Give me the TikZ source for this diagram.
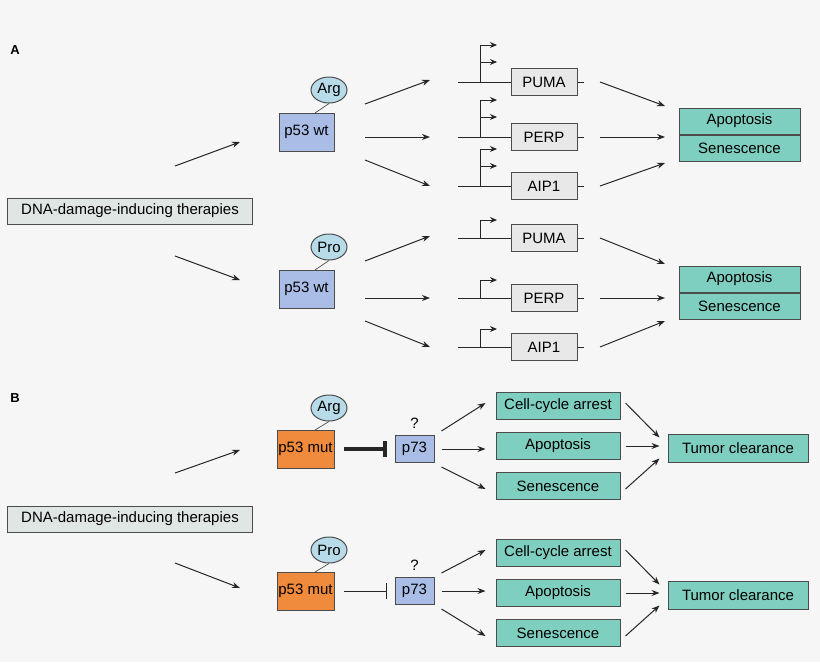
\documentclass[tikz,border=0pt]{standalone}
\usepackage{fontspec}
\setmainfont{Liberation Sans}
\usetikzlibrary{arrows.meta,positioning,shapes.geometric}
\definecolor{bgc}{RGB}{246,246,246}
\definecolor{dnac}{RGB}{224,230,227}
\definecolor{wtc}{RGB}{169,189,230}
\definecolor{resc}{RGB}{183,219,232}
\definecolor{tealc}{RGB}{127,207,192}
\definecolor{mutc}{RGB}{240,138,60}
\definecolor{genec}{RGB}{232,232,232}
\tikzset{every picture/.style={line width=1pt}}
\tikzset{
  box/.style={draw=black!70,font=\fontsize{15}{17}\selectfont,inner sep=0pt},
  dnabox/.style={box,fill=dnac,minimum width=245,minimum height=26},
  wtbox/.style={box,fill=wtc,minimum width=55,minimum height=38},
  mutbox/.style={box,fill=mutc,minimum width=57,minimum height=38},
  resbox/.style={box,ellipse,fill=resc,minimum width=36,minimum height=26},
  genebox/.style={box,fill=genec,minimum width=66,minimum height=27},
  outbox/.style={box,fill=tealc,minimum width=121,minimum height=26},
  cellbox/.style={box,fill=tealc,minimum width=124,minimum height=27},
  tumbox/.style={box,fill=tealc,minimum width=140,minimum height=28},
  p73box/.style={box,fill=wtc,minimum width=39,minimum height=27},
  arr/.style={draw=black!85,-{Stealth[length=8pt,width=6pt]}},
  prom/.style={draw=black!85,-{Stealth[length=7pt,width=6pt]}},
}
\begin{document}
\begin{tikzpicture}[x=1pt,y=-1pt]
\fill[bgc] (0,0) rectangle (820,662);
\useasboundingbox (0,0) rectangle (820,662);

% panel A
\node[font=\bfseries\fontsize{13}{15}\selectfont] (labA) at (15,50) {A};
\node[dnabox] (dnaA) at (130,211) {DNA-damage-inducing therapies};
\coordinate (dA1) at (175,166); \coordinate (dA1e) at (240,142);
\coordinate (dA2) at (175,256); \coordinate (dA2e) at (240,280);
\draw[arr] (dA1) -- (dA1e);
\draw[arr] (dA2) -- (dA2e);

% p53 wt, two variants
\foreach \nm/\res/\y/\pu/\pe/\ai/\ap in {arg/Arg/132/82/137/186/134, pro/Pro/289/238/298/347/292}{
  \node[wtbox] (wt\nm) at (306.5,\y) {p53 wt};
  \node[resbox] (r\nm) at (329,\y-42) {\res};
  \draw[black!70,line width=0.7pt] (315,\y-19) -- (r\nm.south);
  \coordinate (s1\nm) at (365,\y-28); \coordinate (e1\nm) at (430,\pu-2);
  \coordinate (s2\nm) at (365,\pe); \coordinate (e2\nm) at (430,\pe);
  \coordinate (s3\nm) at (365,\ai-26); \coordinate (e3\nm) at (430,\ai);
  \draw[arr] (s1\nm) -- (e1\nm);
  \draw[arr] (s2\nm) -- (e2\nm);
  \draw[arr] (s3\nm) -- (e3\nm);
  % genes
  \foreach \g/\gy in {PUMA/\pu, PERP/\pe, AIP1/\ai}{
    \node[genebox] (g\g\nm) at (544,\gy) {\g};
    \coordinate (gl\g\nm) at (458,\gy); \coordinate (gr\g\nm) at (584,\gy);
    \draw[black!85] (gl\g\nm) -- (g\g\nm.west) (g\g\nm.east) -- (gr\g\nm);
  }
  \node[outbox] (apo\nm) at (739.5,\ap-13) {Apoptosis};
  \node[outbox,below=0pt of apo\nm] (sen\nm) {Senescence};
  \coordinate (o1\nm) at (600,\pu); \coordinate (o2\nm) at (600,\pe); \coordinate (o3\nm) at (600,\ai);
  \draw[arr] (o1\nm) -- (665,\ap-28);
  \draw[arr] (o2\nm) -- (665,\pe);
  \draw[arr] (o3\nm) -- (665,\ap+29);
}
% promoters, two starts for Arg
\foreach \gy in {82,137,186}{
  \draw[black!85] (480,\gy) -- (480,\gy-37);
  \draw[prom] (480,\gy-37) -- (497,\gy-37);
  \draw[prom] (480,\gy-20) -- (497,\gy-20);
}
% promoters, one start for Pro
\foreach \gy in {238,298,347}{
  \draw[black!85] (480,\gy) -- (480,\gy-18);
  \draw[prom] (480,\gy-18) -- (497,\gy-18);
}

% panel B
\node[font=\bfseries\fontsize{13}{15}\selectfont] (labB) at (15,398) {B};
\node[dnabox] (dnaB) at (130,519) {DNA-damage-inducing therapies};
\coordinate (dB1) at (175,473); \coordinate (dB1e) at (240,450);
\coordinate (dB2) at (175,563); \coordinate (dB2e) at (240,588);
\draw[arr] (dB1) -- (dB1e);
\draw[arr] (dB2) -- (dB2e);

\foreach \nm/\res/\y/\cy/\ty/\lw in {marg/Arg/449/406/448/4pt, mpro/Pro/591/553/595/1pt}{
  \node[mutbox] (mut\nm) at (305.5,\y) {p53 mut};
  \node[resbox] (r\nm) at (329,\y-41) {\res};
  \draw[black!70,line width=0.7pt] (315,\y-19) -- (r\nm.south);
  \node[p73box] (p\nm) at (414.5,\y) {p73};
  \node[font=\fontsize{15}{17}\selectfont,above=3pt of p\nm] (q\nm) {?};
  \draw[black!85,line width=\lw,-{Bar[width=16pt]}] (mut\nm.east) ++(9,0) -- ([xshift=-8pt]p\nm.west);
  \node[cellbox] (cc\nm) at (558,\cy) {Cell-cycle arrest};
  \node[cellbox] (ap\nm) at (558,\cy+40) {Apoptosis};
  \node[cellbox] (se\nm) at (558,\cy+80) {Senescence};
  \node[tumbox] (tc\nm) at (738,\ty) {Tumor clearance};
  \draw[arr] ([xshift=7pt,yshift=4pt]p\nm.north east) -- ([xshift=-10pt,yshift=3pt]cc\nm.west);
  \draw[arr] ([xshift=7pt]p\nm.east) -- ([xshift=-10pt]ap\nm.west |- p\nm.east);
  \draw[arr] ([xshift=7pt,yshift=-4pt]p\nm.south east) -- ([xshift=-10pt,yshift=-3pt]se\nm.west);
  \draw[arr] ([xshift=5pt,yshift=3pt]cc\nm.east) -- ([xshift=-8pt,yshift=-4pt]tc\nm.north west);
  \draw[arr] ([xshift=5pt]ap\nm.east) -- ([xshift=-8pt]tc\nm.west |- ap\nm.east);
  \draw[arr] ([xshift=5pt,yshift=-3pt]se\nm.east) -- ([xshift=-8pt,yshift=4pt]tc\nm.south west);
}
\end{tikzpicture}
\end{document}
